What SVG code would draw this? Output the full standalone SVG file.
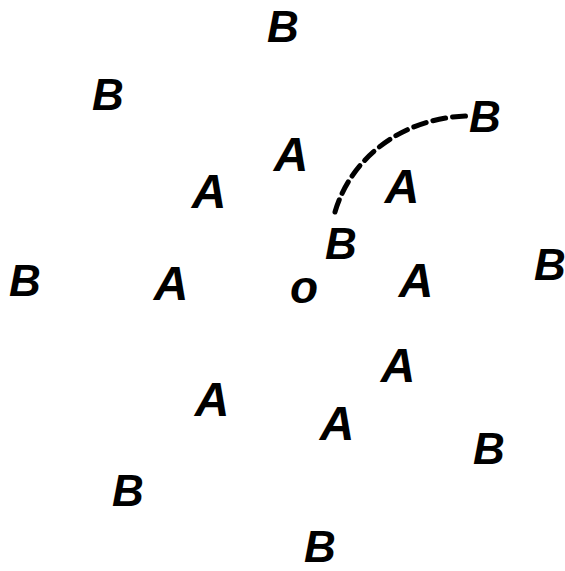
<svg xmlns="http://www.w3.org/2000/svg" width="565" height="571" viewBox="0 0 565 571">
<style>
text{font-family:"Liberation Sans",Arial,sans-serif;font-weight:bold;font-style:italic;fill:#000;text-anchor:middle}
.b{font-size:44px}
.a{font-size:48px}
.o{font-size:46px}
.dash{fill:none;stroke:#000;stroke-width:5;stroke-dasharray:13 7;stroke-linecap:round}
</style>
<rect width="565" height="571" fill="#fff"/>
<g id="connectors">
<path class="dash" d="M335,212 C350,160 400,118 467,116"/>
</g>
<g id="B1"><text class="b" x="283" y="42">B</text></g>
<g id="B2"><text class="b" x="108" y="110">B</text></g>
<g id="B3"><text class="b" x="485" y="132">B</text></g>
<g id="B4"><text class="b" x="341" y="259">B</text></g>
<g id="B5"><text class="b" x="25" y="296">B</text></g>
<g id="B6"><text class="b" x="550" y="280">B</text></g>
<g id="B7"><text class="b" x="489" y="464">B</text></g>
<g id="B8"><text class="b" x="128" y="506">B</text></g>
<g id="B9"><text class="b" x="320" y="562">B</text></g>
<g id="A1"><text class="a" x="291" y="171">A</text></g>
<g id="A2"><text class="a" x="209" y="208">A</text></g>
<g id="A3"><text class="a" x="402" y="203">A</text></g>
<g id="A4"><text class="a" x="171" y="300">A</text></g>
<g id="A5"><text class="a" x="416" y="297">A</text></g>
<g id="A6"><text class="a" x="398" y="382">A</text></g>
<g id="A7"><text class="a" x="212" y="416">A</text></g>
<g id="A8"><text class="a" x="337" y="440">A</text></g>
<g id="O"><text class="o" x="304" y="303">o</text></g>
</svg>
